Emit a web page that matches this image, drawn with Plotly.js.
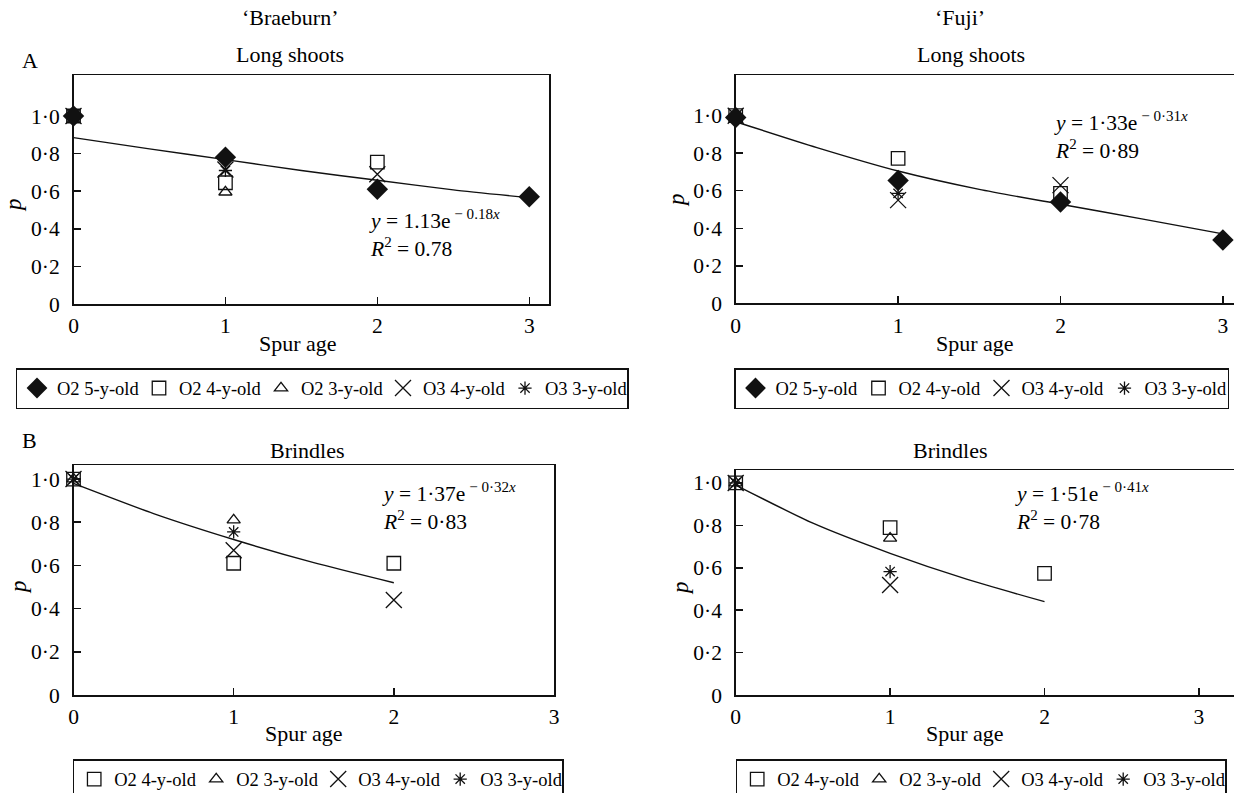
<!DOCTYPE html>
<html>
<head>
<meta charset="utf-8">
<script src="https://cdn.plot.ly/plotly-3.0.1.min.js"></script>
<style>html,body{margin:0;padding:0;background:#fff;overflow:hidden;}#chart{width:1238px;height:793px;}</style>
</head>
<body>
<div id="chart"></div>
<script>
// ---------------- data ----------------
// Panel A, 'Braeburn', long shoots
const braeLongX5 = [0, 1, 2, 3];
const braeLong_O2_5y = [1.00, 0.78, 0.61, 0.57];
const braeLongX4 = [0, 1, 2];
const braeLong_O2_4y = [1.00, 0.645, 0.755];
const braeLongX3 = [0, 1];
const braeLong_O2_3y = [1.00, 0.595];
const braeLong_O3_4y = [1.00, 0.715, 0.69];
const braeLong_O3_3y = [1.00, 0.71];
const braeLongFitX = [0, 0.5, 1, 1.5, 2, 2.5, 3];
const braeLongFitY = [0.885, 0.825, 0.768, 0.71, 0.658, 0.607, 0.565];

// Panel A, 'Fuji', long shoots
const fujiLong_O2_5y = [0.99, 0.655, 0.54, 0.337];
const fujiLong_O2_4y = [1.00, 0.773, 0.586];
const fujiLong_O3_4y = [1.00, 0.55, 0.63];
const fujiLong_O3_3y = [1.00, 0.586];
const fujiLongFitX = [0, 0.5, 1, 1.5, 2, 2.5, 3];
const fujiLongFitY = [0.968, 0.83, 0.705, 0.607, 0.528, 0.45, 0.37];

// Panel B, 'Braeburn', brindles
const brindX3 = [0, 1, 2];
const brindX2 = [0, 1];
const braeBrind_O2_4y = [1.00, 0.61, 0.61];
const braeBrind_O2_3y = [1.00, 0.81];
const braeBrind_O3_4y = [1.00, 0.67, 0.44];
const braeBrind_O3_3y = [1.00, 0.755];
const braeBrindFitX = [0, 0.5, 1, 1.5, 2];
const braeBrindFitY = [0.98, 0.84, 0.72, 0.613, 0.52];

// Panel B, 'Fuji', brindles
const fujiBrind_O2_4y = [1.00, 0.789, 0.574];
const fujiBrind_O2_3y = [1.00, 0.739];
const fujiBrind_O3_4y = [1.00, 0.519];
const fujiBrind_O3_3y = [1.00, 0.582];
const fujiBrindFitX = [0, 0.5, 1, 1.5, 2];
const fujiBrindFitY = [0.99, 0.81, 0.668, 0.545, 0.44];

const yTickVals = [0, 0.2, 0.4, 0.6, 0.8, 1.0];
const yTickText = ['0', '0·2', '0·4', '0·6', '0·8', '1·0'];
const xTickVals = [0, 1, 2, 3];
const xTickText = ['0', '1', '2', '3'];

const names = {
  o25: 'O2 5-y-old', o24: 'O2 4-y-old', o23: 'O2 3-y-old',
  o34: 'O3 4-y-old', o33: 'O3 3-y-old'
};

// ---------------- styles ----------------
const FONT = 'Liberation Serif, Times New Roman, serif';
const INK = '#111';
// drawn 4 px wider than the window so the right-hand panels lose their cut-off right border
const W = 1238, H = 793;
const px = v => v / W;
const py = v => 1 - v / H;

const sym = {
  o25: {symbol: 'diamond', size: 16.5, color: INK, line: {width: 0}},
  o24: {symbol: 'square-open', size: 13.5, color: INK, line: {width: 1.3, color: INK}},
  o23: {symbol: 'triangle-up-open', size: 11.5, color: INK, line: {width: 1.3, color: INK}},
  o34: {symbol: 'x-thin-open', size: 16, color: INK, line: {width: 1.3, color: INK}},
  o33: {symbol: 'asterisk-open', size: 11, color: INK, line: {width: 1.3, color: INK}}
};
const rank = {o25: 1, o24: 2, o23: 3, o34: 4, o33: 5};

function pts(key, x, y, ax, leg) {
  return {
    type: 'scatter', mode: 'markers', x: x, y: y, name: names[key],
    xaxis: 'x' + ax, yaxis: 'y' + ax, legend: leg, legendrank: rank[key],
    marker: sym[key], cliponaxis: false, hoverinfo: 'x+y'
  };
}
function fit(x, y, ax) {
  return {
    type: 'scatter', mode: 'lines', x: x, y: y, showlegend: false,
    xaxis: 'x' + ax, yaxis: 'y' + ax,
    line: {color: INK, width: 1.4, shape: 'spline', smoothing: 0.6}, hoverinfo: 'skip'
  };
}

const data = [
  // Braeburn long shoots (axes 1)
  fit(braeLongFitX, braeLongFitY, ''),
  pts('o24', braeLongX4, braeLong_O2_4y, '', 'legend'),
  pts('o23', braeLongX3, braeLong_O2_3y, '', 'legend'),
  pts('o34', braeLongX4, braeLong_O3_4y, '', 'legend'),
  pts('o33', braeLongX3, braeLong_O3_3y, '', 'legend'),
  pts('o25', braeLongX5, braeLong_O2_5y, '', 'legend'),
  // Fuji long shoots (axes 2)
  fit(fujiLongFitX, fujiLongFitY, '2'),
  pts('o24', braeLongX4, fujiLong_O2_4y, '2', 'legend2'),
  pts('o34', braeLongX4, fujiLong_O3_4y, '2', 'legend2'),
  pts('o33', braeLongX3, fujiLong_O3_3y, '2', 'legend2'),
  pts('o25', braeLongX5, fujiLong_O2_5y, '2', 'legend2'),
  // Braeburn brindles (axes 3)
  fit(braeBrindFitX, braeBrindFitY, '3'),
  pts('o24', brindX3, braeBrind_O2_4y, '3', 'legend3'),
  pts('o23', brindX2, braeBrind_O2_3y, '3', 'legend3'),
  pts('o34', brindX3, braeBrind_O3_4y, '3', 'legend3'),
  pts('o33', brindX2, braeBrind_O3_3y, '3', 'legend3'),
  // Fuji brindles (axes 4)
  fit(fujiBrindFitX, fujiBrindFitY, '4'),
  pts('o24', brindX3, fujiBrind_O2_4y, '4', 'legend4'),
  pts('o23', brindX2, fujiBrind_O2_3y, '4', 'legend4'),
  pts('o34', brindX2, fujiBrind_O3_4y, '4', 'legend4'),
  pts('o33', brindX2, fujiBrind_O3_3y, '4', 'legend4')
];

function xAx(d0, d1, range, anchor) {
  return {
    domain: [px(d0), px(d1)], range: range, anchor: anchor,
    showline: true, mirror: true, linecolor: INK, linewidth: 1.5,
    ticks: 'inside', ticklen: 7, tickwidth: 1.5, tickcolor: INK,
    tickvals: xTickVals, ticktext: xTickText, ticklabelstandoff: 2,
    showgrid: false, zeroline: false, automargin: false,
    tickfont: {family: FONT, size: 21.5, color: '#000'}, fixedrange: true
  };
}
function yAx(top, bottom, range, anchor) {
  return {
    domain: [py(bottom), py(top)], range: range, anchor: anchor,
    showline: true, mirror: true, linecolor: INK, linewidth: 1.5,
    ticks: 'inside', ticklen: 7, tickwidth: 1.5, tickcolor: INK,
    tickvals: yTickVals, ticktext: yTickText, ticklabelstandoff: 8,
    showgrid: false, zeroline: false, automargin: false,
    tickfont: {family: FONT, size: 21.5, color: '#000'}, fixedrange: true
  };
}

function legendAt(x, y, ew) {
  return {
    x: px(x), y: py(y), xanchor: 'left', yanchor: 'top', xref: 'paper', yref: 'paper',
    orientation: 'h', entrywidth: ew, entrywidthmode: 'pixels',
    bordercolor: INK, borderwidth: 1.5, bgcolor: 'rgba(255,255,255,0)',
    font: {family: FONT, size: 18.5, color: '#000'}, itemwidth: 30, traceorder: 'normal'
  };
}

function txt(text, x, y, size, opts) {
  return Object.assign({
    text: text, x: px(x), y: py(y), xref: 'paper', yref: 'paper',
    showarrow: false, xanchor: 'center', yanchor: 'middle',
    font: {family: FONT, size: size, color: '#000'}
  }, opts || {});
}

const annotations = [
  txt('‘Braeburn’', 290, 18, 22),
  txt('‘Fuji’', 960, 18, 22),
  txt('A', 30, 61, 22),
  txt('B', 29, 440, 22),
  txt('Long shoots', 290, 54, 22),
  txt('Long shoots', 971, 54, 22),
  txt('Brindles', 307, 450, 22),
  txt('Brindles', 950, 450, 22),
  txt('Spur age', 298, 343, 22),
  txt('Spur age', 975, 343, 22),
  txt('Spur age', 304, 733, 22),
  txt('Spur age', 965, 733, 22),
  txt('<i>p</i>', 14, 205, 23, {textangle: -90}),
  txt('<i>p</i>', 676, 200, 23, {textangle: -90}),
  txt('<i>p</i>', 18, 587, 23, {textangle: -90}),
  txt('<i>p</i>', 680, 588, 23, {textangle: -90}),
  txt('<i>y</i> = 1.13e<sup> − 0.18<i>x</i></sup><br><i>R</i><sup>2</sup> = 0.78', 367, 233, 21.5, {xanchor: 'left', align: 'left'}),
  txt('<i>y</i> = 1·33e<sup> − 0·31<i>x</i></sup><br><i>R</i><sup>2</sup> = 0·89', 1052, 136, 21.5, {xanchor: 'left', align: 'left'}),
  txt('<i>y</i> = 1·37e<sup> − 0·32<i>x</i></sup><br><i>R</i><sup>2</sup> = 0·83', 380, 506, 21.5, {xanchor: 'left', align: 'left'}),
  txt('<i>y</i> = 1·51e<sup> − 0·41<i>x</i></sup><br><i>R</i><sup>2</sup> = 0·78', 1013, 506, 21.5, {xanchor: 'left', align: 'left'})
];

const layout = {
  width: W, height: H,
  margin: {l: 0, r: 0, t: 0, b: 0, pad: 0, autoexpand: false},
  paper_bgcolor: '#fff', plot_bgcolor: 'rgba(0,0,0,0)',
  font: {family: FONT, color: '#000'},
  xaxis: xAx(73.5, 549, [0, 3.13], 'y'),
  yaxis: yAx(75, 304, [0, 1.218], 'x'),
  xaxis2: xAx(735.7, 1238, [0, 3.093], 'y2'),
  yaxis2: yAx(75, 303.3, [0, 1.217], 'x2'),
  xaxis3: xAx(73.5, 554, [0, 3], 'y3'),
  yaxis3: yAx(465, 695, [0, 1.065], 'x3'),
  xaxis4: xAx(735.7, 1238, [0, 3.253], 'y4'),
  yaxis4: yAx(470, 695, [0, 1.061], 'x4'),
  legend: legendAt(15.5, 368, 77),
  legend2: legendAt(734, 368, 78),
  legend3: legendAt(72.7, 759, 77),
  legend4: legendAt(735.7, 759, 77),
  annotations: annotations,
  showlegend: true
};

Plotly.newPlot('chart', data, layout, {displayModeBar: false, staticPlot: true});
</script>
</body>
</html>
